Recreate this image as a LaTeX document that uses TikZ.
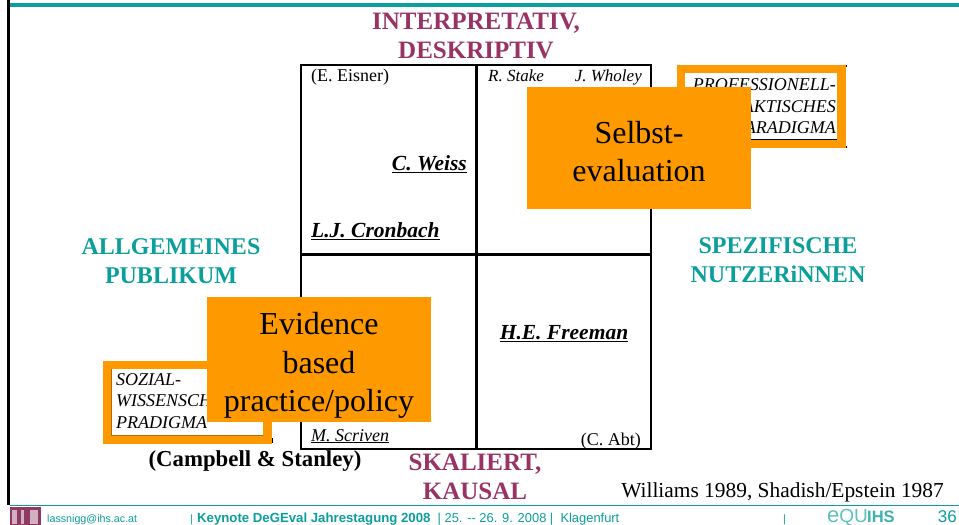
\documentclass[tikz,border=0pt]{standalone}
\usepackage{fontspec}
\setmainfont{Liberation Serif}
\newfontfamily\footfont{Liberation Sans}
\usepackage{xcolor}
\usepackage{tikz}
\definecolor{tealbar}{HTML}{0A9E9C}
\definecolor{plum}{HTML}{993366}
\definecolor{boxorange}{HTML}{FF9900}
\definecolor{ihsplum}{HTML}{8E3A62}
\tikzstyle{axislabel} = [font=\fontsize{25}{28.5}\selectfont\bfseries,align=center,text=plum,inner sep=0pt]
\tikzstyle{sidelabel} = [font=\fontsize{24}{29}\selectfont\bfseries,align=center,text=tealbar,inner sep=0pt]
\tikzstyle{boldname} = [font=\fontsize{21.5}{24}\selectfont\bfseries\itshape,inner sep=0pt]
\tikzstyle{smallname} = [font=\fontsize{17}{20}\selectfont\itshape,inner sep=0pt]
\tikzstyle{plainname} = [font=\fontsize{18}{20}\selectfont,inner sep=0pt]
\tikzstyle{paradigm} = [font=\fontsize{18}{21.5}\selectfont\itshape,inner sep=0pt]
\tikzstyle{orangebox} = [fill=boxorange,font=\fontsize{32}{38}\selectfont,align=center,inner sep=0pt]
\tikzstyle{footer} = [font=\footfont\fontsize{10.7}{14}\selectfont,text=tealbar,inner sep=0pt,anchor=base west]
\begin{document}
\begin{tikzpicture}[x=1pt,y=-1pt]
\useasboundingbox (0,0) rectangle (959,525);
% Frame:
\fill[tealbar] (10,3.3) rectangle (959,7.3);
\draw[line width=2.6pt] (8.7,0) -- (8.7,505);
\draw[tealbar,line width=1pt] (10,505.5) -- (959,505.5);

% Grid:
\draw[line width=2pt] (301,65) rectangle (651,449);
\draw[line width=3pt] (476,65) -- (476,449);
\draw[line width=3pt] (301,254) -- (651,254);

% Axis labels:
\node[axislabel] (top) at (476,36) {INTERPRETATIV,\\DESKRIPTIV};
\node[axislabel] (bottom) at (475,477) {SKALIERT,\\KAUSAL};
\node[sidelabel] (general) at (171,261) {ALLGEMEINES\\PUBLIKUM};
\node[sidelabel] (specific) at (778,260) {SPEZIFISCHE\\NUTZERiNNEN};

% Names in the grid:
\node[plainname,anchor=base west] (eisner) at (311,81) {(E. Eisner)};
\node[smallname,anchor=base west] (stake) at (488,81) {R. Stake};
\node[smallname,anchor=base east] (wholey) at (642,81) {J. Wholey};
\node[boldname,anchor=base east] (weiss) at (467,170) {\underline{C. Weiss}};
\node[boldname,anchor=base west] (cronbach) at (311,237) {\underline{L.J. Cronbach}};
\node[boldname,anchor=base] (freeman) at (564,339) {\underline{H.E. Freeman}};
\node[smallname,font=\fontsize{18}{20}\selectfont\itshape,anchor=base west] (scriven) at (311,441) {\underline{M. Scriven}};
\node[plainname,anchor=base east] (abt) at (641,445) {(C. Abt)};
\node[font=\fontsize{22.8}{26}\selectfont\bfseries,inner sep=0pt] (campbell) at (255,461) {(Campbell \& Stanley)};
\node[font=\fontsize{21.4}{24}\selectfont,inner sep=0pt,anchor=base east] (williams) at (944,497.5) {Williams 1989, Shadish/Epstein 1987};

% Paradigm boxes:
\fill (845,65) rectangle (846.5,66.5);
\fill (845,146) rectangle (846.5,147.5);
\fill[boxorange] (677,65) rectangle (845.7,147.7);
\fill[white] (685,72.7) rectangle (837,139.3);
\draw[line width=.7pt] (685,139.3) -- (837,139.3);
\node[paradigm,align=right,anchor=north east] (prof) at (836,78.5) {PROFESSIONELL-\\PRAKTISCHES\\PARADIGMA};
\fill (271,438) rectangle (273,443);
\fill[boxorange] (103,361) rectangle (271.7,444);
\fill[white] (111.7,369) rectangle (263,435.7);
\draw[boxorange!70!black,line width=.7pt] (111.7,369) -- (111.7,435.7) -- (263,435.7);
\node[paradigm,align=left,anchor=north west] (soz) at (116,373) {SOZIAL-\\WISSENSCHAFTLICHES\\PRADIGMA};

% Orange boxes on top:
\node[orangebox,minimum width=224pt,minimum height=122pt] (selbst) at (639,148) {\rule{0pt}{30pt}Selbst-\\evaluation};
\node[orangebox,minimum width=224pt,minimum height=125pt,font=\fontsize{32}{38.7}\selectfont] (evidence) at (319,359.5) {\rule{0pt}{34pt}Evidence\\based\\practice/policy};

% Footer:
\fill[ihsplum] (10,507) rectangle (41,525);
\foreach \x/\w in {12/5,21/3,30/8}{%
	\fill[white,opacity=.6] (\x,510) rectangle (\x+\w,524);
}
\node[footer] (mail) at (47,522) {lassnigg@ihs.ac.at};
\node[footer] (sep) at (190,522) {|};
\node[footer] (keynote) at (197,522) {\fontsize{13.2}{14}\selectfont\textbf{Keynote DeGEval Jahrestagung 2008}\fontsize{12.9}{14}\selectfont\ \ | 25. -- 26. 9. 2008 |\ \ Klagenfurt};
\node[footer] (sep2) at (783,522) {|};
\node[footer,font=\footfont\fontsize{19}{18}\selectfont,text=tealbar!65] (equi) at (827,522) {{\fontsize{22}{18}\selectfont e}QU};
\node[footer,font=\footfont\fontsize{16.5}{18}\selectfont\bfseries,text=tealbar!80] (ihs) at (867,522) {IHS};
\node[footer,font=\footfont\fontsize{17}{18}\selectfont,anchor=base east] (page) at (957,522) {36};
\end{tikzpicture}
\end{document}
